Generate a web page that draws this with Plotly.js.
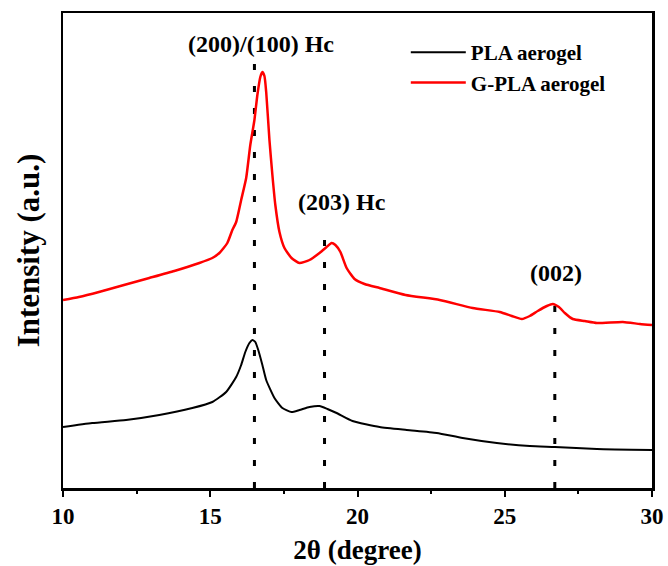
<!DOCTYPE html>
<html>
<head>
<meta charset="utf-8">
<script src="https://cdn.plot.ly/plotly-3.0.1.min.js"></script>
<style>html,body{margin:0;padding:0;background:#fff;}#chart{width:668px;height:566px;}</style>
</head>
<body>
<div id="chart"></div>
<script>
// 2θ values (degree) and intensities (a.u.)
const plaX = [10.00,10.99,12.14,13.27,14.39,15.07,15.54,15.88,16.05,16.19,16.33,16.43,16.53,16.63,16.77,16.90,17.18,17.45,17.76,18.03,18.37,18.71,18.98,19.29,19.83,20.75,21.67,22.69,23.57,24.73,25.85,26.70,28.13,30.00];
const plaY = [61,65,68,73,80,86,96,111,123,136,145,148,146,138,123,108,90,80,76,78,81,82,79,75,67,61,58,55,50,45,42,41,39,38];

const gplaX = [10.00,10.54,11.22,12.07,12.93,13.78,14.63,15.07,15.31,15.58,15.75,15.88,16.05,16.22,16.36,16.50,16.60,16.70,16.77,16.84,16.90,17.01,17.11,17.21,17.35,17.52,17.76,18.03,18.37,18.71,18.95,19.12,19.25,19.42,19.63,19.90,20.24,20.75,21.63,22.79,23.91,24.83,25.24,25.58,25.85,26.12,26.43,26.63,26.84,27.04,27.31,27.72,28.13,29.01,29.59,30.00];
const gplaY = [188,191,196,203,210,217,225,230,235,245,258,266,288,310,343,368,393,411,416,412,396,348,313,283,256,240,230,225,228,235,241,245,243,236,220,209,204,200,193,188,180,176,172,169,172,177,182,184,181,175,169,167,165,166,164,163];

const seriesNames = ["PLA aerogel", "G-PLA aerogel"];
const tickValues = [10, 15, 20, 25, 30];
const tickLabels = ["10", "15", "20", "25", "30"];
const peakLabels = ["(200)/(100) Hc", "(203) Hc", "(002)"];
const peakPositions = [16.5, 18.88, 26.70];
const peakLineTops = [431, 253, 193];
const labelX = [16.73, 19.46, 26.73];
const labelY = [444, 286, 215];

const FONT = "'Times New Roman', 'Liberation Serif', serif";

const traces = [
  {x: plaX, y: plaY, type: 'scatter', mode: 'lines', name: '<b>' + seriesNames[0] + '</b>',
   line: {color: '#000000', width: 2, shape: 'spline', smoothing: 0.5}},
  {x: gplaX, y: gplaY, type: 'scatter', mode: 'lines', name: '<b>' + seriesNames[1] + '</b>',
   line: {color: '#ff0000', width: 2.5, shape: 'spline', smoothing: 0.5}}
];

const shapes = peakPositions.map((p, i) => ({
  type: 'line', xref: 'x', yref: 'y', x0: p, x1: p, y0: 0, y1: peakLineTops[i],
  line: {color: '#000000', width: 3, dash: '6px,16px'}, layer: 'below'
}));

const annotations = peakLabels.map((t, i) => ({
  text: '<b>' + t + '</b>', x: labelX[i], y: labelY[i], xref: 'x', yref: 'y',
  showarrow: false, xanchor: 'center', yanchor: 'middle',
  font: {family: FONT, size: 24, color: '#000'}
}));

const layout = {
  width: 668, height: 566,
  margin: {l: 63, r: 16, t: 13, b: 78},
  paper_bgcolor: '#fff', plot_bgcolor: '#fff',
  font: {family: FONT, color: '#000'},
  showlegend: true,
  legend: {x: 0.582, y: 0.96, xanchor: 'left', yanchor: 'top', itemwidth: 55,
    font: {family: FONT, size: 21, color: '#000'},
    bgcolor: 'rgba(0,0,0,0)', traceorder: 'normal'},
  xaxis: {
    range: [10, 30], tickvals: tickValues, ticktext: tickLabels.map(t => '<b>' + t + '</b>'),
    ticks: 'outside', ticklen: 6, tickwidth: 2,
    tickcolor: '#000', showline: true, linewidth: 2.5, linecolor: '#000', mirror: true,
    showgrid: false, zeroline: false,
    tickfont: {family: FONT, size: 23, color: '#000', weight: 'bold'},
    minor: {dtick: 2.5, tick0: 10, ticks: 'outside', ticklen: 3, tickwidth: 2, tickcolor: '#000', showgrid: false},
    title: {text: '<b>2θ (degree)</b>', font: {family: FONT, size: 27, color: '#000'}, standoff: 12}
  },
  yaxis: {
    range: [0, 475], showticklabels: false, ticks: '', showline: true, linewidth: 2.5,
    linecolor: '#000', mirror: true, showgrid: false, zeroline: false,
    title: {text: '<b>Intensity (a.u.)</b>', font: {family: FONT, size: 31, color: '#000'}, standoff: 12}
  },
  shapes: shapes,
  annotations: annotations
};

Plotly.newPlot('chart', traces, layout, {displayModeBar: false, staticPlot: true});
</script>
</body>
</html>
